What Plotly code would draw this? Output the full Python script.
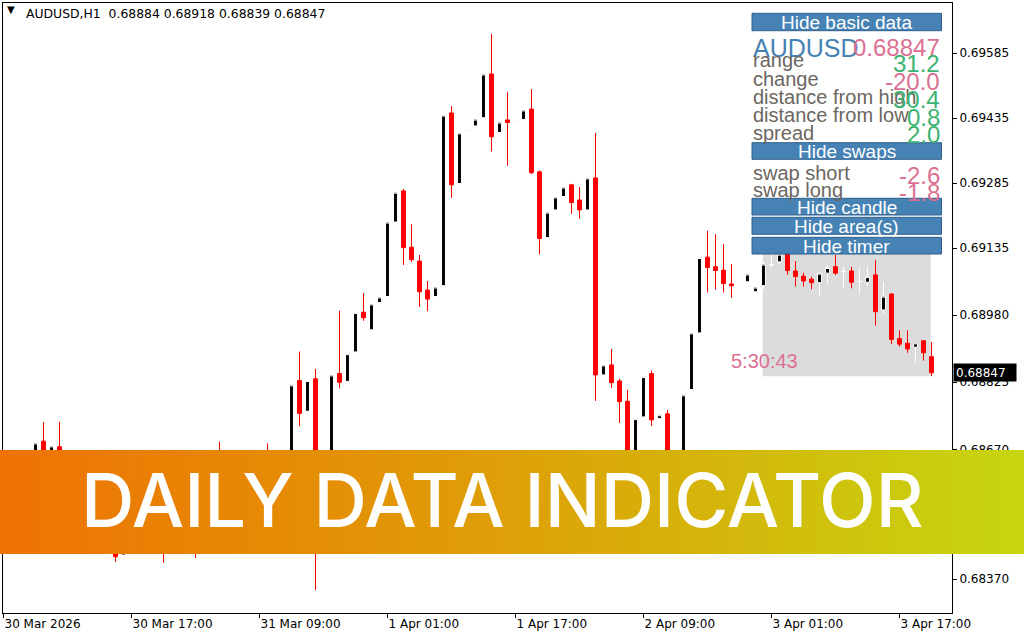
import base64
import plotly.graph_objects as go

# ---------------- data ----------------
opens = [0.68600, 0.68640, 0.68610, 0.68630, 0.68640, 0.68689, 0.68650, 0.68676, 0.68630, 0.68600,
         0.68560, 0.68580, 0.68520, 0.68480, 0.68500, 0.68426, 0.68470, 0.68500, 0.68470, 0.68510,
         0.68460, 0.68440, 0.68480, 0.68530, 0.68490, 0.68450, 0.68520, 0.68580, 0.68560, 0.68600,
         0.68630, 0.68600, 0.68640, 0.68610, 0.68580, 0.68620, 0.68650, 0.68829, 0.68758, 0.68833,
         0.68470, 0.68560, 0.68845, 0.68827, 0.68895, 0.68987, 0.68946, 0.69009, 0.69023, 0.69195,
         0.69267, 0.69137, 0.69105, 0.69038, 0.69023, 0.69048, 0.69447, 0.69284, 0.69407, 0.69417,
         0.69436, 0.69537, 0.69402, 0.69431, 0.69428, 0.69432, 0.69456, 0.69311, 0.69159, 0.69223,
         0.69254, 0.69281, 0.69246, 0.69223, 0.69297, 0.68842, 0.68865, 0.68828, 0.68781, 0.68640,
         0.68745, 0.68845, 0.68741, 0.68752, 0.68640, 0.68655, 0.68808, 0.68939, 0.69114, 0.69092,
         0.69084, 0.69052, 0.69050, 0.69057, 0.69034, 0.69048, 0.69095, 0.69103, 0.69125, 0.69082,
         0.69070, 0.69063, 0.69055, 0.69077, 0.69092, 0.69079, 0.69082, 0.69056, 0.69056, 0.69073,
         0.68992, 0.69029, 0.68926, 0.68915, 0.68906, 0.68921, 0.68884]
highs = [0.68655, 0.68650, 0.68640, 0.68665, 0.68700, 0.68733, 0.68690, 0.68734, 0.68640, 0.68610,
         0.68590, 0.68590, 0.68530, 0.68510, 0.68510, 0.68480, 0.68510, 0.68520, 0.68520, 0.68530,
         0.68480, 0.68490, 0.68540, 0.68540, 0.68500, 0.68530, 0.68590, 0.68688, 0.68610, 0.68640,
         0.68650, 0.68650, 0.68655, 0.68684, 0.68630, 0.68660, 0.68825, 0.68896, 0.68840, 0.68856,
         0.68580, 0.68850, 0.68990, 0.68900, 0.68990, 0.69031, 0.69010, 0.69030, 0.69200, 0.69270,
         0.69271, 0.69190, 0.69119, 0.69059, 0.69050, 0.69450, 0.69463, 0.69410, 0.69420, 0.69440,
         0.69545, 0.69630, 0.69440, 0.69496, 0.69440, 0.69460, 0.69502, 0.69314, 0.69225, 0.69260,
         0.69285, 0.69283, 0.69276, 0.69305, 0.69401, 0.68875, 0.68902, 0.68833, 0.68808, 0.68750,
         0.68845, 0.68852, 0.68755, 0.68761, 0.68660, 0.68805, 0.68945, 0.69120, 0.69175, 0.69167,
         0.69144, 0.69098, 0.69060, 0.69080, 0.69050, 0.69105, 0.69120, 0.69151, 0.69140, 0.69105,
         0.69078, 0.69069, 0.69079, 0.69096, 0.69119, 0.69092, 0.69092, 0.69087, 0.69092, 0.69107,
         0.69056, 0.69030, 0.68945, 0.68945, 0.68918, 0.68921, 0.68918]
lows = [0.68590, 0.68600, 0.68600, 0.68620, 0.68630, 0.68640, 0.68645, 0.68620, 0.68590, 0.68545,
        0.68550, 0.68505, 0.68470, 0.68470, 0.68410, 0.68420, 0.68460, 0.68460, 0.68465, 0.68450,
        0.68408, 0.68430, 0.68475, 0.68480, 0.68419, 0.68440, 0.68510, 0.68550, 0.68555, 0.68590,
        0.68590, 0.68595, 0.68600, 0.68570, 0.68575, 0.68610, 0.68640, 0.68723, 0.68750, 0.68345,
        0.68460, 0.68550, 0.68811, 0.68820, 0.68890, 0.68967, 0.68940, 0.69000, 0.69015, 0.69185,
        0.69096, 0.69103, 0.68999, 0.68989, 0.69010, 0.69040, 0.69251, 0.69270, 0.69395, 0.69405,
        0.69430, 0.69358, 0.69390, 0.69325, 0.69415, 0.69425, 0.69306, 0.69120, 0.69150, 0.69215,
        0.69245, 0.69214, 0.69203, 0.69215, 0.68782, 0.68835, 0.68812, 0.68731, 0.68620, 0.68630,
        0.68740, 0.68724, 0.68735, 0.68600, 0.68600, 0.68645, 0.68800, 0.68930, 0.69032, 0.69039,
        0.69032, 0.69020, 0.69040, 0.69050, 0.69028, 0.69040, 0.69092, 0.69098, 0.69073, 0.69046,
        0.69046, 0.69040, 0.69025, 0.69051, 0.69073, 0.69043, 0.69042, 0.69030, 0.69047, 0.68956,
        0.68982, 0.68913, 0.68907, 0.68893, 0.68870, 0.68875, 0.68839]
closes = [0.68640, 0.68610, 0.68630, 0.68660, 0.68685, 0.68650, 0.68678, 0.68630, 0.68600, 0.68560,
          0.68580, 0.68520, 0.68480, 0.68500, 0.68422, 0.68470, 0.68500, 0.68470, 0.68510, 0.68460,
          0.68440, 0.68480, 0.68530, 0.68490, 0.68450, 0.68520, 0.68580, 0.68560, 0.68600, 0.68630,
          0.68600, 0.68640, 0.68610, 0.68580, 0.68620, 0.68650, 0.68819, 0.68753, 0.68829, 0.68470,
          0.68560, 0.68842, 0.68825, 0.68891, 0.68986, 0.68974, 0.69006, 0.69022, 0.69195, 0.69264,
          0.69136, 0.69108, 0.69034, 0.69017, 0.69045, 0.69442, 0.69281, 0.69401, 0.69409, 0.69433,
          0.69537, 0.69392, 0.69426, 0.69425, 0.69429, 0.69454, 0.69309, 0.69157, 0.69218, 0.69253,
          0.69276, 0.69240, 0.69223, 0.69297, 0.68842, 0.68865, 0.68824, 0.68780, 0.68640, 0.68741,
          0.68838, 0.68738, 0.68750, 0.68640, 0.68655, 0.68796, 0.68939, 0.69113, 0.69090, 0.69083,
          0.69053, 0.69048, 0.69051, 0.69075, 0.69045, 0.69098, 0.69097, 0.69121, 0.69083, 0.69069,
          0.69059, 0.69055, 0.69077, 0.69090, 0.69077, 0.69081, 0.69056, 0.69058, 0.69069, 0.68988,
          0.69024, 0.68924, 0.68913, 0.68902, 0.68916, 0.68893, 0.68847]

time_tick_bars = [0, 16, 32, 48, 64, 80, 96, 112]
time_tick_labels = ["30 Mar 2026", "30 Mar 17:00", "31 Mar 09:00", "1 Apr 01:00",
                    "1 Apr 17:00", "2 Apr 09:00", "3 Apr 01:00", "3 Apr 17:00"]
price_ticks = [0.69585, 0.69435, 0.69285, 0.69135, 0.68980, 0.68825, 0.68670, 0.68520, 0.68370]

symbol = "AUDUSD"
last_price = "0.68847"
day_start_bar = 95
day_high = 0.69151
day_low = 0.68839
timer_text = "5:30:43"

info_labels = ["range", "change", "distance from high", "distance from low", "spread"]
info_values = ["31.2", "-20.0", "30.4", "0.8", "2.0"]
info_colors = ["#3CB371", "#DB7093", "#3CB371", "#3CB371", "#3CB371"]
swap_labels = ["swap short", "swap long"]
swap_values = ["-2.6", "-1.8"]
button_labels = ["Hide basic data", "Hide swaps", "Hide candle", "Hide area(s)", "Hide timer"]
banner_title = "DAILY DATA INDICATOR"

# ---------------- layout helpers ----------------
W, H = 1024, 640
PL, PR, PT, PB = 3, 952, 3, 613


def px(x):
    return (x - PL) / (PR - PL)


def py(y):
    return (PB - y) / (PB - PT)


xs = list(range(len(opens)))

fig = go.Figure()
fig.add_trace(go.Candlestick(
    x=xs, open=opens, high=highs, low=lows, close=closes,
    increasing=dict(line=dict(color="white", width=1), fillcolor="black"),
    decreasing=dict(line=dict(color="#FF0000", width=1), fillcolor="#FF0000"),
    whiskerwidth=0, hoverinfo="skip", showlegend=False,
))

shapes = []
# daily area
shapes.append(dict(type="rect", xref="x", yref="y", layer="below",
                   x0=day_start_bar - 0.1, x1=xs[-1] - 0.1, y0=day_low, y1=day_high,
                   fillcolor="#DCDCDC", line=dict(width=0)))

annotations = []
mono = "DejaVu Sans"
# header
annotations.append(dict(xref="paper", yref="paper", x=px(5), y=py(10), xanchor="left", yanchor="middle",
                        text="▼", showarrow=False, font=dict(family=mono, size=10, color="black")))
annotations.append(dict(xref="paper", yref="paper", x=px(24), y=py(14), xanchor="left", yanchor="middle",
                        text=f"{symbol},H1\u00a0\u00a0" + " ".join(f"{v:.5f}" for v in
                                                                  (opens[-1], highs[-1], lows[-1], closes[-1])),
                        showarrow=False, font=dict(family=mono, size=12.4, color="black")))

# buttons
btn_rows = [(13.3, 30.7), (142.7, 159.3), (198.3, 215.0), (217.3, 234.3), (237.3, 254.0)]
BX0, BX1 = 752, 941.5
for (y0, y1), lab in zip(btn_rows, button_labels):
    shapes.append(dict(type="rect", xref="paper", yref="paper", layer="above",
                       x0=px(BX0), x1=px(BX1), y0=py(y1), y1=py(y0),
                       fillcolor="#4682B4", line=dict(color="#2F5F8C", width=1)))
    annotations.append(dict(xref="paper", yref="paper", x=px((BX0 + BX1) / 2), y=py((y0 + y1) / 2 + 0.5),
                            text=lab, showarrow=False, xanchor="center", yanchor="middle",
                            font=dict(family="Liberation Sans", size=19, color="white")))

lab_font = dict(family="Liberation Sans", size=20, color="#6B6661")
# symbol / price
annotations.append(dict(xref="paper", yref="paper", x=px(751), y=py(48), xanchor="left", yanchor="middle",
                        text=symbol, showarrow=False,
                        font=dict(family="Liberation Sans", size=25, color="#4682B4")))
annotations.append(dict(xref="paper", yref="paper", x=px(942), y=py(48), xanchor="right", yanchor="middle",
                        text=last_price, showarrow=False,
                        font=dict(family="Liberation Sans", size=24, color="#DB7093")))
lab_y = [60, 79, 97, 115, 132.5]
val_y = [63.5, 81.5, 99.5, 117, 135]
for lab, val, col, ly, vy in zip(info_labels, info_values, info_colors, lab_y, val_y):
    annotations.append(dict(xref="paper", yref="paper", x=px(751), y=py(ly), xanchor="left", yanchor="middle",
                            text=lab, showarrow=False, font=lab_font))
    annotations.append(dict(xref="paper", yref="paper", x=px(942), y=py(vy), xanchor="right", yanchor="middle",
                            text=val, showarrow=False,
                            font=dict(family="Liberation Sans", size=24, color=col)))
for lab, val, ly, vy in zip(swap_labels, swap_values, [172.5, 190], [175.5, 192.5]):
    annotations.append(dict(xref="paper", yref="paper", x=px(751), y=py(ly), xanchor="left", yanchor="middle",
                            text=lab, showarrow=False, font=lab_font))
    annotations.append(dict(xref="paper", yref="paper", x=px(942), y=py(vy), xanchor="right", yanchor="middle",
                            text=val, showarrow=False,
                            font=dict(family="Liberation Sans", size=24, color="#DB7093")))

# timer
annotations.append(dict(xref="paper", yref="paper", x=px(729), y=py(361), xanchor="left", yanchor="middle",
                        text=timer_text, showarrow=False,
                        font=dict(family="Liberation Sans", size=20, color="#DB7093")))

# current price marker
annotations.append(dict(xref="paper", yref="y", x=px(953), y=closes[-1], xanchor="left", yanchor="middle",
                        text=last_price, showarrow=False, bgcolor="black", width=58, height=13,
                        borderpad=2, align="left",
                        font=dict(family=mono, size=12, color="white")))

# banner
svg = ('<svg xmlns="http://www.w3.org/2000/svg" width="1024" height="104" preserveAspectRatio="none" '
       'viewBox="0 0 1024 104"><defs><linearGradient id="g" x1="0" y1="0" x2="1" y2="0">'
       '<stop offset="0" stop-color="#EF7203"/><stop offset="0.5" stop-color="#DEA008"/>'
       '<stop offset="1" stop-color="#C6D610"/></linearGradient></defs>'
       '<rect width="1024" height="104" fill="url(#g)"/></svg>')
src = "data:image/svg+xml;base64," + base64.b64encode(svg.encode()).decode()
images = [dict(source=src, xref="paper", yref="paper", x=px(0), y=py(450),
               sizex=px(1024) - px(0), sizey=py(450) - py(554),
               xanchor="left", yanchor="top", sizing="stretch", layer="above")]
annotations.append(dict(xref="paper", yref="paper", x=px(502), y=py(500), xanchor="center", yanchor="middle",
                        text=banner_title, showarrow=False,
                        font=dict(family="Inter", size=74, color="white", weight=500)))

fig.update_layout(
    width=W, height=H,
    margin=dict(l=PL, r=W - PR, t=PT, b=H - PB, pad=0, autoexpand=False),
    paper_bgcolor="white", plot_bgcolor="white",
    showlegend=False, hovermode=False,
    shapes=shapes, annotations=annotations, images=images,
    xaxis=dict(range=[-0.0625, 118.5625], showgrid=False, zeroline=False, automargin=False,
               showline=True, mirror=True, linecolor="black", linewidth=1,
               ticks="outside", ticklen=4, tickcolor="black", tickwidth=1,
               tickvals=time_tick_bars, ticktext=time_tick_labels,
               ticklabelposition="outside right",
               tickfont=dict(family=mono, size=12, color="black"),
               rangeslider=dict(visible=False), fixedrange=True),
    yaxis=dict(range=[0.68292, 0.69701], side="right", showgrid=False, zeroline=False, automargin=False,
               showline=True, mirror=True, linecolor="black", linewidth=1,
               ticks="outside", ticklen=4, tickcolor="black", tickwidth=1,
               tickvals=price_ticks, ticktext=[f"{v:.5f}" for v in price_ticks],
               tickfont=dict(family=mono, size=12, color="black"), fixedrange=True),
)

fig.write_html("out.html", config={"displayModeBar": False},
               post_script="document.body.style.margin='0';document.body.style.overflow='hidden';")
